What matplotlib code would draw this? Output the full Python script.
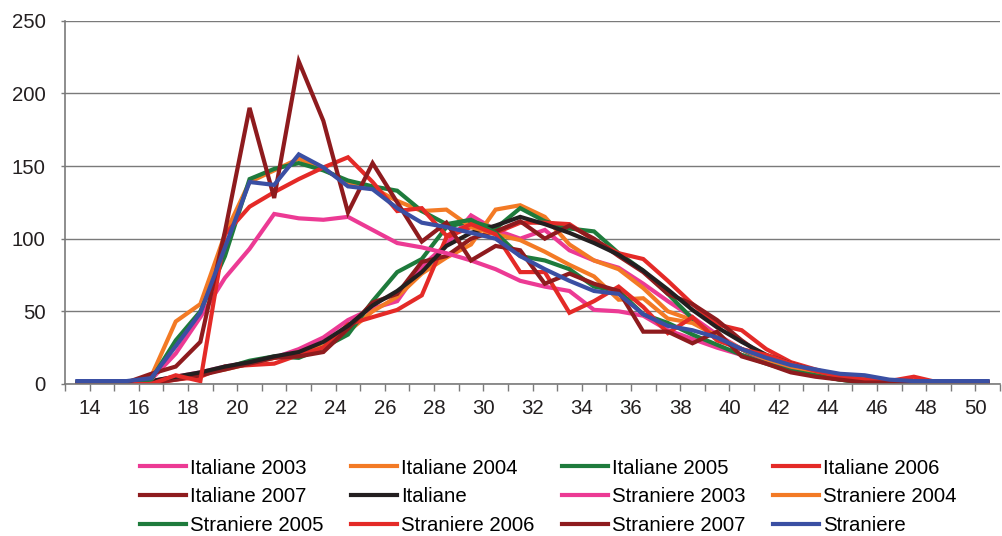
import numpy as np
import matplotlib.pyplot as plt

plt.rcParams['font.family'] = ['Liberation Sans', 'DejaVu Sans']

# age classes (mid points), one value per year of age
ages = np.arange(13.5, 51.0, 1.0)

# births by age of the mother
ita_2003 = [0, 0, 0, 2, 5, 8, 12, 15, 18, 24, 32, 44, 52, 57, 81, 96, 116, 106, 100,
            106, 92, 85, 80, 69, 57, 46, 34, 24, 16, 11, 7, 4, 2, 1, 1, 0, 0, 0]
ita_2004 = [0, 0, 0, 2, 4, 7, 10, 14, 18, 22, 26, 36, 50, 60, 76, 87, 96, 120, 123,
            115, 96, 85, 79, 66, 50, 44, 32, 24, 15, 10, 6, 4, 2, 1, 1, 0, 0, 0]
ita_2005 = [0, 0, 0, 2, 4, 7, 11, 16, 19, 18, 25, 34, 57, 77, 86, 108, 112, 107, 121,
            112, 107, 105, 90, 78, 62, 45, 31, 24, 15, 10, 6, 3, 1, 1, 0, 0, 0, 0]
ita_2006 = [0, 0, 0, 0, 3, 5, 12, 13, 14, 20, 25, 41, 46, 51, 61, 101, 108, 104, 111,
            111, 110, 99, 90, 86, 71, 55, 41, 37, 24, 15, 10, 5, 2, 1, 1, 0, 0, 0]
ita_2007 = [0, 0, 0, 1, 3, 6, 10, 14, 18, 19, 22, 38, 56, 62, 84, 88, 100, 105, 112,
            100, 109, 100, 88, 77, 62, 55, 44, 30, 18, 12, 7, 4, 2, 1, 1, 1, 1, 1]
italiane = [1, 1, 1, 2, 5, 8, 12, 15, 19, 22, 29, 40, 54, 64, 77, 95, 104, 109, 115,
            110, 104, 97, 89, 78, 65, 51, 39, 29, 20, 14, 9, 6, 4, 2, 1, 1, 1, 1]
str_2003 = [0, 0, 0, 3, 21, 46, 73, 93, 117, 114, 113, 115, 106, 97, 94, 90, 85, 79, 71,
            67, 64, 51, 50, 47, 37, 31, 25, 20, 15, 11, 8, 5, 3, 2, 1, 1, 1, 1]
str_2004 = [1, 1, 1, 5, 43, 55, 103, 139, 147, 155, 148, 138, 135, 126, 119, 120, 108,
            103, 99, 91, 82, 74, 58, 59, 45, 42, 33, 24, 17, 12, 8, 5, 3, 2, 1, 1, 1, 1]
str_2005 = [1, 1, 1, 3, 30, 50, 88, 141, 148, 152, 147, 140, 136, 133, 119, 110, 113,
            104, 88, 85, 79, 67, 64, 48, 42, 34, 27, 20, 14, 9, 6, 3, 1, 0, 0, 0, 0, 0]
str_2006 = [0, 0, 0, 0, 6, 2, 103, 122, 132, 141, 149, 156, 139, 119, 121, 102, 110,
            103, 77, 77, 49, 57, 67, 53, 35, 46, 30, 24, 20, 14, 9, 5, 3, 2, 5, 1, 1, 0]
str_2007 = [0, 0, 1, 7, 12, 29, 105, 190, 128, 222, 181, 118, 152, 125, 98, 111, 85, 95,
            92, 69, 76, 69, 64, 36, 36, 28, 36, 19, 14, 8, 5, 3, 1, 1, 1, 1, 1, 1]
straniere = [2, 2, 2, 4, 26, 49, 94, 139, 137, 158, 149, 136, 134, 121, 111, 108, 104,
             100, 88, 79, 71, 64, 62, 48, 40, 37, 32, 24, 18, 13, 10, 7, 6, 3, 2, 2, 2, 2]

series = [
    ('Italiane 2003', ita_2003, '#EC3A94'),
    ('Italiane 2004', ita_2004, '#F37A25'),
    ('Italiane 2005', ita_2005, '#1E7B3C'),
    ('Italiane 2006', ita_2006, '#E42A27'),
    ('Italiane 2007', ita_2007, '#8E1B1E'),
    ('Italiane', italiane, '#231F20'),
    ('Straniere 2003', str_2003, '#EC3A94'),
    ('Straniere 2004', str_2004, '#F37A25'),
    ('Straniere 2005', str_2005, '#1E7B3C'),
    ('Straniere 2006', str_2006, '#E42A27'),
    ('Straniere 2007', str_2007, '#8E1B1E'),
    ('Straniere', straniere, '#3A4FA3'),
]

fig = plt.figure(figsize=(10.02, 5.36), dpi=100)
ax = fig.add_axes([0.0649, 0.2836, 0.9331, 0.6778])

handles = []
for label, vals, col in series:
    h, = ax.plot(ages, vals, color=col, lw=3, label=label, solid_joinstyle='miter')
    handles.append(h)

ax.set_xlim(13, 51)
ax.set_ylim(0, 250)
ax.set_yticks(np.arange(0, 251, 50))
ax.set_xticks(np.arange(13, 52, 1), minor=True)
ax.set_xticks(np.arange(14, 51, 2))
ax.yaxis.grid(True, color='#7a7a7a', lw=1)
ax.set_axisbelow(True)

for s in ['top', 'right']:
    ax.spines[s].set_visible(False)
for s in ['left', 'bottom']:
    ax.spines[s].set_color('#7a7a7a')
    ax.spines[s].set_linewidth(1.2)

ax.tick_params(axis='y', length=3, width=1, color='#7a7a7a', pad=11,
               labelsize=14.7, labelcolor='#231F20')
ax.tick_params(axis='x', which='both', length=5, width=1, color='#7a7a7a')
ax.tick_params(axis='x', which='major', pad=6, labelsize=14.7, labelcolor='#231F20')

# legend laid out row by row like the original (4 columns)
order = [0, 4, 8, 1, 5, 9, 2, 6, 10, 3, 7, 11]
fig.legend([handles[i] for i in order], [series[i][0] for i in order],
           loc='center', bbox_to_anchor=(0.547, 0.0735), ncol=4, frameon=False,
           fontsize=14.7, handlelength=2.25, handletextpad=0.2,
           columnspacing=1.35, labelspacing=0.47)

plt.savefig('out.png', dpi=100)
